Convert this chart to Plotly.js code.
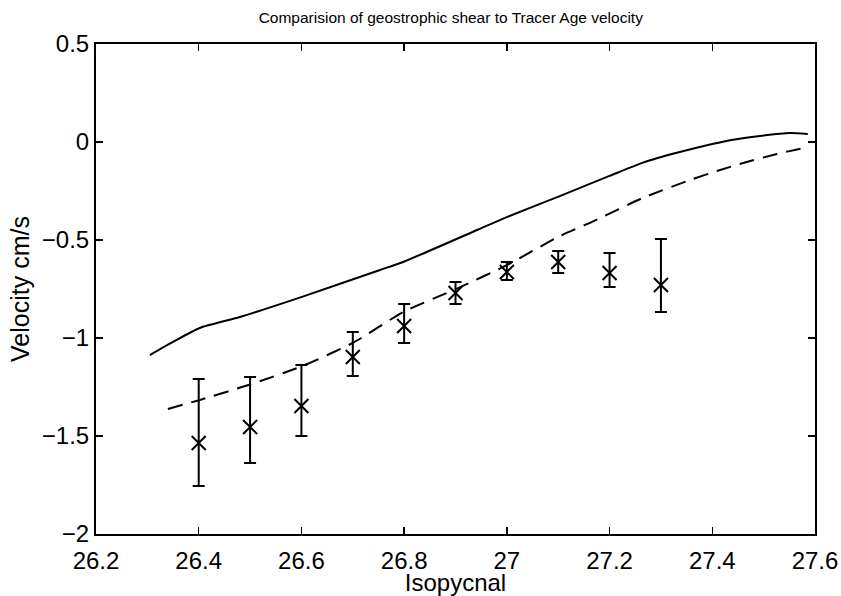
<!DOCTYPE html>
<html><head><meta charset="utf-8">
<script src="https://cdn.plot.ly/plotly-3.0.1.min.js"></script>
<style>html,body{margin:0;padding:0;background:#fff}</style>
</head><body><div id="plot" style="width:841px;height:596px"></div>
<script>
const shearX = [26.305, 26.35, 26.402, 26.48, 26.601, 26.753, 26.798, 26.942, 27.0, 27.103, 27.2, 27.265, 27.331, 27.4, 27.44, 27.493, 27.551, 27.586];
const shearY = [-1.087, -1.02, -0.949, -0.893, -0.79, -0.653, -0.612, -0.449, -0.383, -0.276, -0.173, -0.105, -0.055, -0.01, 0.012, 0.031, 0.046, 0.041];
const dashX = [26.34, 26.402, 26.5, 26.6, 26.7, 26.8, 26.903, 27.0, 27.103, 27.168, 27.265, 27.362, 27.409, 27.46, 27.526, 27.577];
const dashY = [-1.362, -1.316, -1.237, -1.145, -1.025, -0.865, -0.748, -0.628, -0.48, -0.405, -0.285, -0.189, -0.148, -0.107, -0.061, -0.031];
const ageX = [26.4, 26.5, 26.6, 26.7, 26.8, 26.9, 27.0, 27.1, 27.2, 27.3];
const ageY = [-1.536, -1.454, -1.347, -1.097, -0.939, -0.77, -0.663, -0.612, -0.668, -0.73];
const ageUpper = [-1.209, -1.199, -1.138, -0.969, -0.827, -0.714, -0.612, -0.556, -0.566, -0.495];
const ageLower = [-1.755, -1.638, -1.5, -1.194, -1.026, -0.827, -0.704, -0.668, -0.74, -0.867];

const errPlus = ageUpper.map((u, i) => u - ageY[i]);
const errMinus = ageY.map((v, i) => v - ageLower[i]);

const traces = [
  {x: shearX, y: shearY, mode: 'lines', line: {color: '#000', width: 2, shape: 'spline', smoothing: 0.6}, hoverinfo: 'skip'},
  {x: dashX, y: dashY, mode: 'lines', line: {color: '#000', width: 2, dash: '15px,9px', shape: 'spline', smoothing: 0.6}, hoverinfo: 'skip'},
  {x: ageX, y: ageY, mode: 'markers',
   marker: {symbol: 'x-thin-open', size: 14, color: '#000', line: {color: '#000', width: 2}},
   error_y: {type: 'data', symmetric: false, array: errPlus, arrayminus: errMinus, color: '#000', thickness: 2, width: 6}}
];

const fontFam = '"Liberation Sans", Arial, Helvetica, sans-serif';
const layout = {
  width: 841, height: 596,
  margin: {l: 96, r: 26, t: 44, b: 62},
  paper_bgcolor: '#fff', plot_bgcolor: '#fff',
  showlegend: false,
  font: {family: fontFam, color: '#000'},
  title: {text: 'Comparision of geostrophic shear to Tracer Age velocity', font: {size: 15.5, family: fontFam, color: '#000'}, x: 0.536, xanchor: 'center', y: 0.971, yanchor: 'middle'},
  xaxis: {
    range: [26.2, 27.6], tickvals: [26.2, 26.4, 26.6, 26.8, 27.0, 27.2, 27.4, 27.6],
    ticktext: ['26.2', '26.4', '26.6', '26.8', '27', '27.2', '27.4', '27.6'],
    ticks: 'inside', ticklen: 7, tickwidth: 1.5, tickcolor: '#000', ticklabelstandoff: 4,
    showline: true, linecolor: '#000', linewidth: 2, mirror: 'ticks',
    showgrid: false, zeroline: false,
    tickfont: {size: 24, family: fontFam, color: '#000'},
    title: {text: 'Isopycnal', font: {size: 24, family: fontFam, color: '#000'}, standoff: 0}
  },
  yaxis: {
    range: [-2, 0.5], tickvals: [-2, -1.5, -1, -0.5, 0, 0.5],
    ticktext: ['\u22122', '\u22121.5', '\u22121', '\u22120.5', '0', '0.5'],
    ticks: 'inside', ticklen: 7, tickwidth: 1.5, tickcolor: '#000',
    showline: true, linecolor: '#000', linewidth: 2, mirror: 'ticks',
    showgrid: false, zeroline: false,
    tickfont: {size: 24, family: fontFam, color: '#000'},
    title: {text: 'Velocity cm/s', font: {size: 25, family: fontFam, color: '#000'}, standoff: 5}
  }
};
Plotly.newPlot('plot', traces, layout, {displayModeBar: false, staticPlot: true});
</script></body></html>
